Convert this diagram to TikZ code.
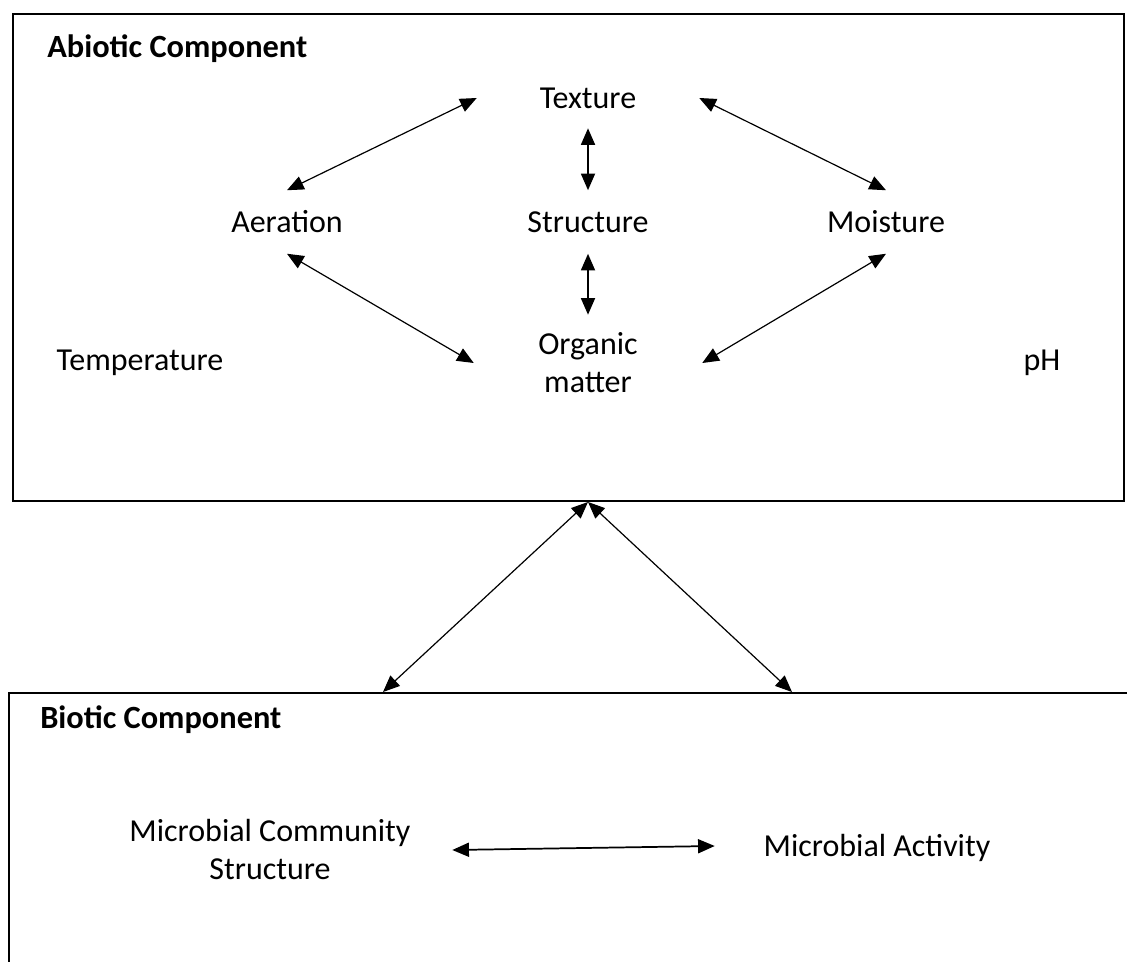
\documentclass[tikz,border=0pt]{standalone}
\usepackage{fontspec}
\setmainfont{Carlito}
\usetikzlibrary{arrows.meta}
\begin{document}
\begin{tikzpicture}[x=0.75pt,y=-0.75pt,
  lbl/.style={font=\fontsize{24}{28.5}\selectfont, inner sep=0pt, align=center},
  head/.style={font=\bfseries\fontsize{24.3}{29}\selectfont, anchor=west, inner sep=0pt},
  panel/.style={draw, line width=1.5pt, inner sep=0pt, anchor=north west},
  twoway/.style={{Triangle[length=12.5pt,width=10.5pt]}-{Triangle[length=12.5pt,width=10.5pt]}, line width=0.9pt},
  twowayv/.style={twoway, line width=1.4pt}
]
\clip (0,0) rectangle (1127,962);

% the two component panels
\node[panel, minimum width=833.25pt, minimum height=365.25pt] (abio) at (12,13) {};
\node[panel, line width=1.4pt, minimum width=900pt, minimum height=300pt] (bio) at (8,692) {};

\node[head] (abiot) at (47,49) {Abiotic Component};
\node[head] (biot) at (40,720) {Biotic Component};

% abiotic factors
\node[lbl, minimum width=166.5pt, minimum height=45pt] (tex) at (588,98) {Texture};
\node[lbl, minimum height=47.25pt] (aer) at (287,222) {Aeration};
\node[lbl, minimum height=47.25pt] (str) at (588,222) {Structure};
\node[lbl, minimum height=47.25pt] (moi) at (886,222) {Moisture};
\node[lbl, minimum width=171pt, minimum height=72pt] (org) at (588,363) {Organic\\matter};
\node[lbl] (tmp) at (140,363) {Temperature};
\node[lbl] (ph) at (1042,363) {pH};

\draw[twoway] (tex.west) -- (aer.north);
\draw[twoway] (tex.east) -- (moi.north);
\draw[twowayv] (tex.south) -- (str.north);
\draw[twowayv] (str.south) -- (org.north);
\draw[twoway] (aer.south) -- (org.west);
\draw[twoway] (moi.south) -- (org.east);

% biotic factors
\node[lbl, minimum width=273pt] (mcs) at (270,849) {Microbial Community\\Structure};
\node[lbl, minimum width=243pt] (mact) at (877,848) {Microbial Activity};
\draw[twowayv, line width=1.3pt] ([yshift=-0.75pt]mcs.east) -- ([yshift=1.5pt]mact.west);

% links between the panels
\coordinate (bl) at (383,692);
\coordinate (br) at (792,692);
\draw[twoway] (abio.south -| org) -- (bl);
\draw[twoway] (abio.south -| org) -- (br);
\end{tikzpicture}
\end{document}
